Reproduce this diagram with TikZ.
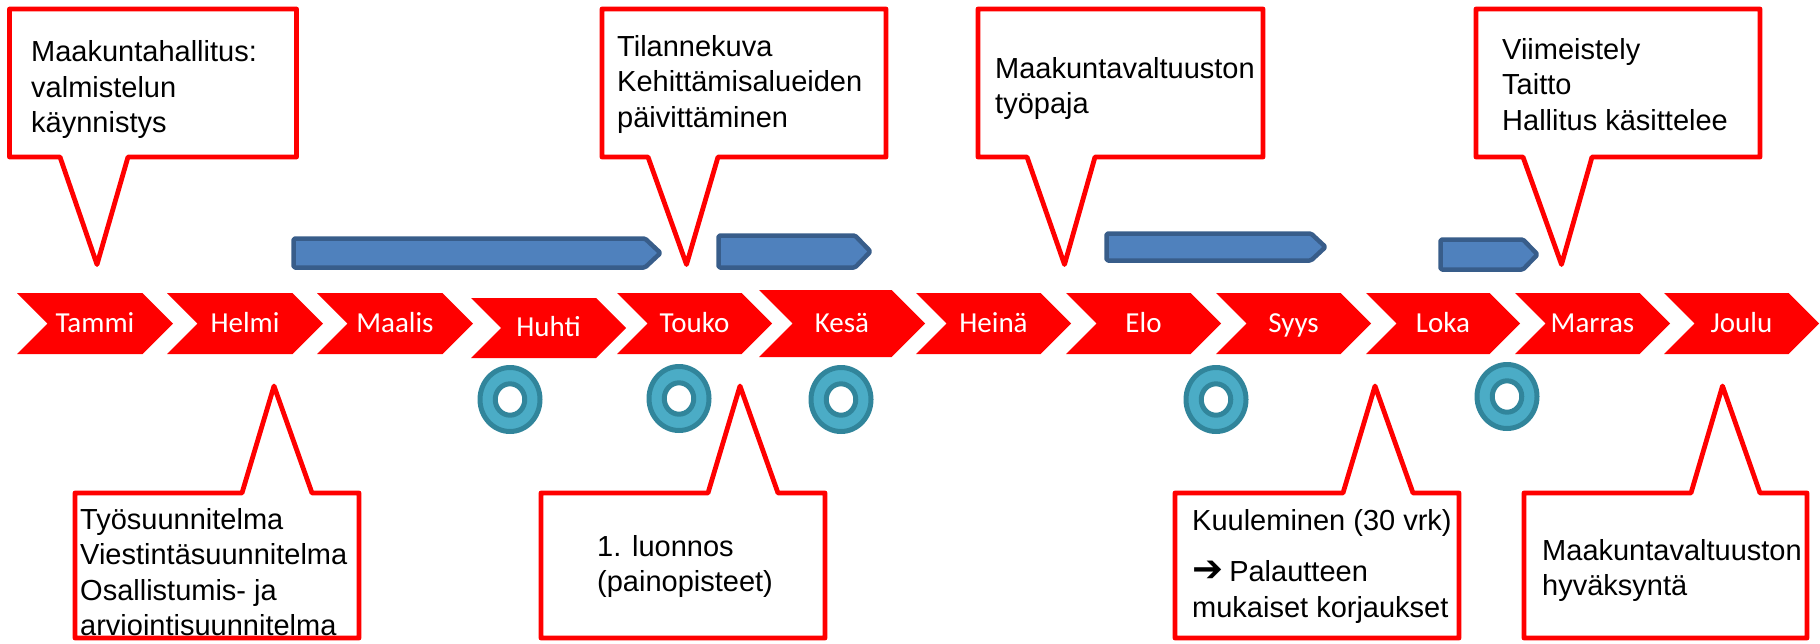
\documentclass[tikz,border=0pt]{standalone}
\usepackage{fontspec}
\setmainfont{Liberation Sans}
\newfontfamily\monthfont{Carlito}
\newfontfamily\arrowfont{DejaVu Sans}

\definecolor{callred}{RGB}{255,0,0}
\definecolor{barblue}{RGB}{79,129,189}
\definecolor{barline}{RGB}{56,93,138}
\definecolor{ringfill}{RGB}{75,172,198}
\definecolor{ringline}{RGB}{49,133,155}

% month chevron: name, left, top, width, height, label
\newcommand{\monthchev}[6]{%
  \fill[callred] (#2,#3) -- ++({#4-#5/2},0) -- ++({#5/2},{#5/2})
    -- ++({-#5/2},{#5/2}) -- ++({#5/2-#4},0) -- ++({#5/2},{-#5/2}) -- cycle;
  \node[monthlabel] (#1) at ({#2+#4/2},{#3+#5/2+8.5}) {#6};}

\begin{document}
\begin{tikzpicture}[x=1pt,y=-1pt,line join=round,
    note/.style={draw=callred,line width=4.8pt,fill=white},
    notetext/.style={anchor=north west,inner sep=0pt,align=left,
      font=\fontsize{29}{35.5}\selectfont},
    bar/.style={draw=barline,fill=barblue,line width=4.5pt,rounded corners=1.5pt},
    ring/.style={draw=ringline,fill=ringfill,line width=5pt,even odd rule},
    monthlabel/.style={anchor=base,inner sep=0pt,text=white,
      font=\monthfont\fontsize{29}{30}\selectfont}]
  \useasboundingbox (0,0) rectangle (1820,643);

  % Months
  \monthchev{tammi}{17}{293}{156}{61}{Tammi}
  \monthchev{helmi}{167}{293}{156}{61}{Helmi}
  \monthchev{maalis}{317}{293}{156}{61}{Maalis}
  \monthchev{huhti}{471}{298}{155}{60}{Huhti}
  \monthchev{touko}{617}{293}{155}{61}{Touko}
  \monthchev{kesa}{759}{290}{166}{67}{Kesä}
  \monthchev{heina}{916}{293}{155}{61}{Heinä}
  \monthchev{elo}{1066}{293}{155}{61}{Elo}
  \monthchev{syys}{1216}{293}{155}{61}{Syys}
  \monthchev{loka}{1366}{293}{154}{61}{Loka}
  \monthchev{marras}{1515}{293}{155}{61}{Marras}
  \monthchev{joulu}{1664}{293}{155}{61}{Joulu}

  % Work periods
  \draw[bar] (293.5,238.5) -- (645,238.5) -- (660.5,253) -- (645,267.5) -- (293.5,267.5) -- cycle;
  \draw[bar] (718.5,235.5) -- (855,235.5) -- (870.5,251.5) -- (855,267.5) -- (718.5,267.5) -- cycle;
  \draw[bar] (1106.5,233.5) -- (1311,233.5) -- (1325.5,247) -- (1311,260.5) -- (1106.5,260.5) -- cycle;
  \draw[bar] (1440.5,239.5) -- (1523,239.5) -- (1537.5,254.5) -- (1523,269.5) -- (1440.5,269.5) -- cycle;

  % Meetings
  \draw[ring] (510,399.5) ellipse [x radius=30pt,y radius=32pt] ellipse [x radius=14.75pt,y radius=15.7pt];
  \draw[ring] (679,398.5) ellipse [x radius=30pt,y radius=32pt] ellipse [x radius=14.75pt,y radius=15.7pt];
  \draw[ring] (841,399.5) ellipse [x radius=30pt,y radius=32pt] ellipse [x radius=14.75pt,y radius=15.7pt];
  \draw[ring] (1216,399.5) ellipse [x radius=30pt,y radius=32pt] ellipse [x radius=14.75pt,y radius=15.7pt];
  \draw[ring] (1507,396.5) ellipse [x radius=30pt,y radius=32pt] ellipse [x radius=14.75pt,y radius=15.7pt];

  % Callouts above
  \draw[note] (9.5,9) -- (296.5,9) -- (296.5,157) -- (128,157) -- (97,264.5) -- (60,157) -- (9.5,157) -- cycle;
  \node[notetext] (start) at (31,40.5) {Maakuntahallitus:\\valmistelun\\käynnistys};

  \draw[note] (602,9) -- (886,9) -- (886,157) -- (718,157) -- (686.5,264.5) -- (648,157) -- (602,157) -- cycle;
  \node[notetext] (status) at (617,35) {Tilannekuva\\Kehittämisalueiden\\päivittäminen};

  \draw[note] (978,9) -- (1263,9) -- (1263,157) -- (1095,157) -- (1064.5,264.5) -- (1027,157) -- (978,157) -- cycle;
  \node[notetext] (workshop) at (995,57) {Maakuntavaltuuston\\työpaja};

  \draw[note] (1476,9) -- (1760,9) -- (1760,157) -- (1592,157) -- (1561.5,264.5) -- (1523,157) -- (1476,157) -- cycle;
  \node[notetext] (finish) at (1502,38) {Viimeistely\\Taitto\\Hallitus käsittelee};

  % Callouts below
  \draw[note] (75,493) -- (242,493) -- (274,386) -- (312,493) -- (359,493) -- (359,638) -- (75,638) -- cycle;
  \node[notetext] (plans) at (80,508) {Työsuunnitelma\\Viestintäsuunnitelma\\Osallistumis- ja\\arviointisuunnitelma};

  \draw[note] (541,493) -- (708,493) -- (740,386) -- (778,493) -- (825,493) -- (825,638) -- (541,638) -- cycle;
  \node[notetext] (draft) at (597,535) {1. luonnos\\(painopisteet)};

  \draw[note] (1175,493) -- (1343,493) -- (1375,386) -- (1413,493) -- (1459,493) -- (1459,638) -- (1175,638) -- cycle;
  \node[notetext] (hearing) at (1192,509) {Kuuleminen (30 vrk)\\[16pt]{\arrowfont\fontsize{37}{35.5}\selectfont ➔}\kern-2pt{} Palautteen\\mukaiset korjaukset};

  \draw[note] (1524,493) -- (1691,493) -- (1722.5,386) -- (1760,493) -- (1807,493) -- (1807,638) -- (1524,638) -- cycle;
  \node[notetext] (approval) at (1542,539) {Maakuntavaltuuston\\hyväksyntä};
\end{tikzpicture}
\end{document}
